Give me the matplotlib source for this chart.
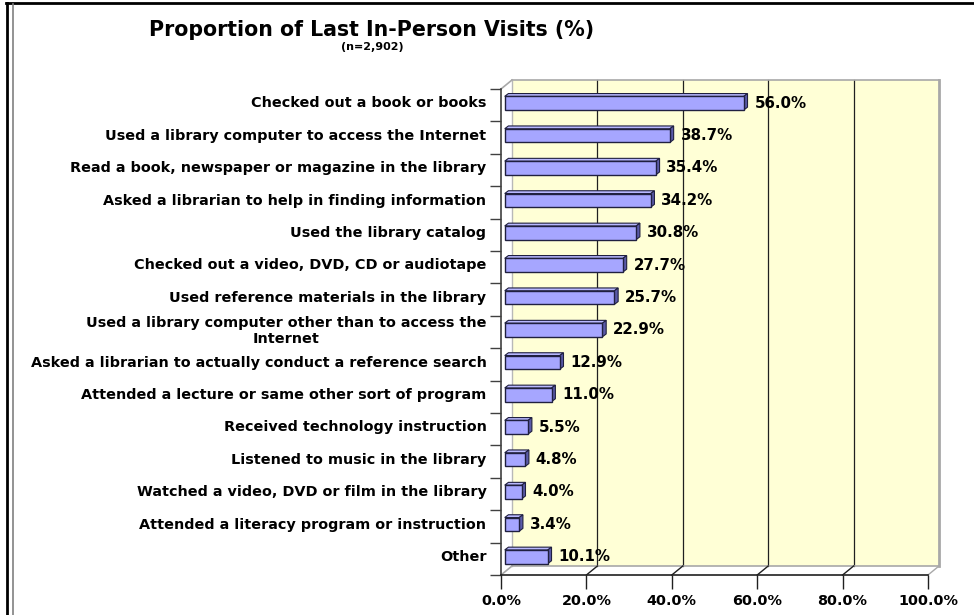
import matplotlib
matplotlib.use("Agg")
import matplotlib.pyplot as plt
from matplotlib.patches import Polygon
from matplotlib.lines import Line2D
import numpy as np

categories = [
    "Checked out a book or books",
    "Used a library computer to access the Internet",
    "Read a book, newspaper or magazine in the library",
    "Asked a librarian to help in finding information",
    "Used the library catalog",
    "Checked out a video, DVD, CD or audiotape",
    "Used reference materials in the library",
    "Used a library computer other than to access the\nInternet",
    "Asked a librarian to actually conduct a reference search",
    "Attended a lecture or same other sort of program",
    "Received technology instruction",
    "Listened to music in the library",
    "Watched a video, DVD or film in the library",
    "Attended a literacy program or instruction",
    "Other",
]
values = [56.0, 38.7, 35.4, 34.2, 30.8, 27.7, 25.7, 22.9, 12.9, 11.0, 5.5, 4.8, 4.0, 3.4, 10.1]
xticks = [0, 20, 40, 60, 80, 100]

W, H = 974, 615
fig = plt.figure(figsize=(W / 100, H / 100), dpi=100)
fig.patch.set_facecolor("white")

# front plane of the 3D chart in pixels
x0, x1, ytop, ybot = 501, 928, 89, 575
ax = fig.add_axes([x0 / W, (H - ybot) / H, (x1 - x0) / W, (ybot - ytop) / H])
n = len(categories)
ax.set_xlim(0, 100)
ax.set_ylim(n - 0.5, -0.5)
ax.set_facecolor("none")
for s in ax.spines.values():
    s.set_visible(False)

pxx = (x1 - x0) / 100.0
pxy = (ybot - ytop) / n
dxw, dyw = 11 / pxx, -9 / pxy        # wall depth
sx, sy = 3.7 / pxx, -2.8 / pxy       # bar depth offset / depth
bh = 13.6 / pxy

top, bot = -0.5, n - 0.5
# back wall
wall = Polygon([(dxw, top + dyw), (100 + dxw, top + dyw), (100 + dxw, bot + dyw), (dxw, bot + dyw)],
               closed=True, facecolor="#FFFFD6", edgecolor="none", zorder=0, clip_on=False)
ax.add_patch(wall)
for g in xticks[1:-1]:
    ax.plot([g + dxw, g + dxw], [top + dyw, bot + dyw], color="#202020", lw=0.9, zorder=1, clip_on=False)
ax.plot([dxw, 100 + dxw], [top + dyw, top + dyw], color="#A8A8A8", lw=1.2, zorder=1, clip_on=False)
ax.plot([100 + dxw, 100 + dxw], [top + dyw, bot + dyw], color="#A8A8A8", lw=2, zorder=1, clip_on=False)
ax.plot([dxw, dxw], [top + dyw, bot + dyw], color="#B8B8B8", lw=1, zorder=1, clip_on=False)
ax.plot([dxw, 100 + dxw], [bot + dyw, bot + dyw], color="#A8A8A8", lw=1.2, zorder=1, clip_on=False)
# side wall / floor edges
ax.plot([0, dxw], [top, top + dyw], color="#A8A8A8", lw=1.2, zorder=1, clip_on=False)
ax.plot([0, dxw], [bot, bot + dyw], color="#A8A8A8", lw=1.2, zorder=1, clip_on=False)
for g in xticks[1:]:
    c = "#A8A8A8" if g == 100 else "#202020"
    ax.plot([g, g + dxw], [bot, bot + dyw], color=c, lw=1, zorder=1, clip_on=False)

# axis lines
ax.plot([0, 0], [top, bot], color="#404040", lw=1.2, zorder=5, clip_on=False)
ax.plot([0, 100], [bot, bot], color="#202020", lw=1.2, zorder=5, clip_on=False)

# bars
for i, v in enumerate(values):
    yc = i + sy / 2 - 0.02
    yt, yb = yc - bh / 2, yc + bh / 2
    xl, xr = sx, v + sx
    topf = Polygon([(xl, yt), (xr, yt), (xr + sx, yt + sy), (xl + sx, yt + sy)], closed=True,
                   facecolor="#B8B8FF", edgecolor="#202040", lw=0.8, zorder=3)
    side = Polygon([(xr, yt), (xr + sx, yt + sy), (xr + sx, yb + sy), (xr, yb)], closed=True,
                   facecolor="#5A5AA8", edgecolor="#202040", lw=0.8, zorder=3)
    front = Polygon([(xl, yt), (xr, yt), (xr, yb), (xl, yb)], closed=True,
                    facecolor="#A6A6FF", edgecolor="#202040", lw=1, zorder=4)
    for p in (topf, side, front):
        ax.add_patch(p)
    ax.text(xr + sx + 1.6, yc, f"{v:.1f}%", ha="left", va="center", fontsize=10.8,
            fontweight="bold", zorder=6, clip_on=False)

# y ticks: boundaries as minor ticks, labels as major with no tick
ax.set_yticks(np.arange(n + 1) - 0.5, minor=True)
ax.set_yticks(np.arange(n) - 0.1)
ax.set_yticklabels(categories, fontsize=10.4, fontweight="bold", multialignment="center")
ax.tick_params(axis="y", which="major", length=0, pad=10.5)
ax.tick_params(axis="y", which="minor", length=8, width=1, color="#404040")

ax.set_xticks(xticks)
ax.set_xticklabels([f"{t:.1f}%" for t in xticks], fontsize=10.4, fontweight="bold")
ax.tick_params(axis="x", length=10, width=1, color="#202020", pad=4)

fig.text(372 / W, 1 - 30 / H, "Proportion of Last In-Person Visits (%)", ha="center", va="center",
         fontsize=14.8, fontweight="bold")
fig.text(372 / W, 1 - 47 / H, "(n=2,902)", ha="center", va="center", fontsize=8, fontweight="bold")

# chart border
fig.add_artist(Line2D([6 / W, 1], [1 - 3 / H, 1 - 3 / H], color="black", lw=2, transform=fig.transFigure))
fig.add_artist(Line2D([7 / W, 7 / W], [0, 1 - 3 / H], color="black", lw=2, transform=fig.transFigure))
fig.add_artist(Line2D([12.5 / W, 12.5 / W], [0, 1 - 4 / H], color="#808080", lw=1.2, transform=fig.transFigure))

fig.savefig("out.png", dpi=100)
